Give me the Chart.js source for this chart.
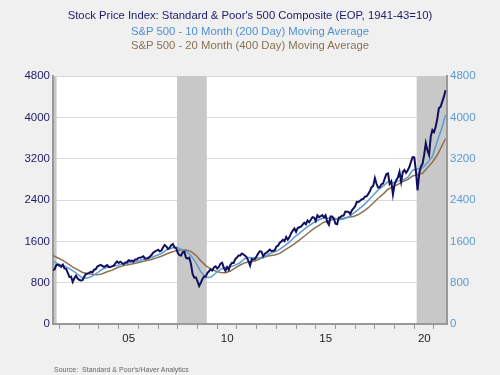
<!DOCTYPE html>
<html>
<head>
<meta charset="utf-8">
<script src="https://cdn.jsdelivr.net/npm/chart.js@4.4.0/dist/chart.umd.min.js"></script>
<style>
  body { margin: 0; background: #f0f0f0; }
  #wrap { position: relative; width: 500px; height: 375px; font-family: "Liberation Sans", Arial, sans-serif; }
  #c { position: absolute; left: 0; top: 0; }
  .ttl { position: absolute; left: 0; width: 500px; text-align: center; font-size: 11.3px; line-height: 14px; }
  #src { position: absolute; left: 54px; top: 366px; font-size: 7px; color: #666; }
</style>
</head>
<body>
<div id="wrap">
  <canvas id="c" width="500" height="375"></canvas>
  <div class="ttl" style="top:8px;color:#1c1c6b">Stock Price Index: Standard &amp; Poor's 500 Composite (EOP, 1941-43=10)</div>
  <div class="ttl" style="top:24px;color:#4f8fd6">S&amp;P 500 - 10 Month (200 Day) Moving Average</div>
  <div class="ttl" style="top:38px;color:#8b7053">S&amp;P 500 - 20 Month (400 Day) Moving Average</div>
  <div id="src">Source:&nbsp; Standard &amp; Poor's/Haver Analytics</div>
</div>
<script>
// monthly EOP, Sep 2001 .. Aug 2021
var startYear = 2001, startMonth = 9;
var spx = [
  1041, 1060, 1139, 1148,
  1130, 1107, 1147, 1077, 1067, 990, 912, 916, 815, 886, 936, 880,
  856, 841, 848, 917, 964, 975, 990, 1008, 996, 1051, 1058, 1112,
  1131, 1145, 1126, 1107, 1121, 1141, 1102, 1104, 1115, 1130, 1174, 1212,
  1181, 1204, 1181, 1157, 1192, 1191, 1234, 1220, 1229, 1207, 1249, 1248,
  1280, 1281, 1295, 1311, 1270, 1270, 1277, 1304, 1336, 1378, 1401, 1418,
  1438, 1407, 1421, 1482, 1531, 1503, 1455, 1474, 1527, 1549, 1481, 1468,
  1379, 1331, 1323, 1386, 1400, 1280, 1267, 1283, 1166, 969, 896, 903,
  826, 735, 798, 873, 919, 919, 987, 1021, 1057, 1036, 1096, 1115,
  1074, 1104, 1169, 1187, 1089, 1031, 1102, 1049, 1141, 1183, 1181, 1258,
  1286, 1327, 1326, 1364, 1345, 1321, 1292, 1219, 1131, 1253, 1247, 1258,
  1312, 1366, 1408, 1398, 1310, 1362, 1379, 1407, 1441, 1412, 1416, 1426,
  1498, 1515, 1569, 1598, 1631, 1606, 1686, 1633, 1682, 1757, 1806, 1848,
  1783, 1859, 1872, 1884, 1924, 1960, 1931, 2003, 1972, 2018, 2068, 2059,
  1995, 2105, 2068, 2086, 2107, 2063, 2104, 1972, 1920, 2079, 2080, 2044,
  1940, 1932, 2060, 2065, 2097, 2099, 2174, 2171, 2168, 2126, 2199, 2239,
  2279, 2364, 2363, 2384, 2412, 2423, 2470, 2472, 2519, 2575, 2648, 2674,
  2824, 2714, 2641, 2648, 2705, 2718, 2816, 2902, 2914, 2712, 2760, 2507,
  2704, 2784, 2834, 2946, 2752, 2942, 2980, 2926, 2977, 3038, 3141, 3231,
  3226, 2954, 2585, 2912, 3044, 3100, 3271, 3500, 3363, 3270, 3622, 3756,
  3714, 3811, 3973, 4181, 4204, 4298, 4395, 4523
];
// moving averages, every 3rd month from Sep 2001, last one Aug 2021
var ma10 = [
  1220, 1162,
  1134, 1091, 1031, 963,
  888, 892, 927, 992,
  1059, 1099, 1120, 1133,
  1154, 1174, 1200, 1211,
  1244, 1264, 1287, 1326,
  1365, 1431, 1466, 1489,
  1449, 1412, 1328, 1187,
  1012, 900, 904, 982,
  1058, 1096, 1106, 1139,
  1188, 1273, 1287, 1276,
  1281, 1305, 1364, 1396,
  1443, 1511, 1584, 1682,
  1753, 1837, 1904, 1969,
  2018, 2054, 2048, 2052,
  2020, 2032, 2075, 2140,
  2218, 2296, 2392, 2494,
  2596, 2667, 2756, 2732,
  2765, 2786, 2835, 2977,
  3000, 3021, 3119, 3242,
  3538, 3819, 4048
];
var ma20 = [
  1326, 1278,
  1232, 1169, 1101, 1054,
  997, 978, 956, 951,
  973, 1010, 1043, 1088,
  1120, 1144, 1163, 1180,
  1204, 1229, 1247, 1280,
  1312, 1355, 1389, 1420,
  1430, 1433, 1406, 1329,
  1222, 1130, 1067, 1027,
  997, 992, 1025, 1086,
  1142, 1187, 1205, 1220,
  1263, 1298, 1323, 1335,
  1366, 1428, 1487, 1549,
  1622, 1698, 1776, 1849,
  1911, 1971, 1999, 2028,
  2034, 2047, 2067, 2082,
  2119, 2181, 2251, 2343,
  2433, 2514, 2609, 2653,
  2704, 2757, 2794, 2865,
  2891, 2917, 3025, 3130,
  3271, 3458, 3585
];
var yTicks = [0, 800, 1600, 2400, 3200, 4000, 4800];
var xLabels = {2005: '05', 2010: '10', 2015: '15', 2020: '20'};
var recStart = [2001.25, 2007.96, 2020.12];
var recEnd = [2001.85, 2009.47, 2021.66];

function monthX(i) { return startYear + (startMonth - 1 + i) / 12; }

var spxPts = spx.map(function(v, i) { return {x: monthX(i), y: v}; });
function maPts(arr) {
  return arr.map(function(v, i) {
    var idx = i < arr.length - 1 ? i * 3 : spx.length - 1;
    return {x: monthX(idx), y: v};
  });
}

var plotBg = {
  id: 'plotBg',
  beforeDraw: function(chart) {
    var a = chart.chartArea, ctx = chart.ctx;
    ctx.save();
    ctx.fillStyle = '#ffffff';
    ctx.fillRect(a.left, a.top, a.right - a.left, a.bottom - a.top);
    ctx.restore();
  }
};
var recessionShade = {
  id: 'recessionShade',
  beforeDatasetsDraw: function(chart) {
    var a = chart.chartArea, ctx = chart.ctx, x = chart.scales.x;
    ctx.save();
    ctx.fillStyle = '#c8c8c8';
    for (var i = 0; i < recStart.length; i++) {
      var x0 = Math.max(x.getPixelForValue(recStart[i]), a.left + 1);
      var x1 = Math.min(x.getPixelForValue(recEnd[i]), a.right - 1);
      ctx.fillRect(x0, a.top, x1 - x0, a.bottom - a.top - 1);
    }
    ctx.restore();
  }
};

function plainTick(v) { return String(v); }

Chart.defaults.font.family = '"Liberation Sans", Arial, sans-serif';
Chart.defaults.font.size = 11.5;

new Chart(document.getElementById('c'), {
  type: 'line',
  plugins: [plotBg, recessionShade],
  data: {
    datasets: [
      { data: spxPts, borderColor: '#10105e', borderWidth: 2, pointRadius: 0, tension: 0 },
      { data: maPts(ma10), borderColor: '#5b9bd5', borderWidth: 1.5, pointRadius: 0, tension: 0 },
      { data: maPts(ma20), borderColor: '#8c7052', borderWidth: 1.5, pointRadius: 0, tension: 0 }
    ]
  },
  options: {
    responsive: false,
    animation: false,
    layout: { padding: { top: 76, left: 0, right: 0, bottom: 0 } },
    plugins: { legend: { display: false }, tooltip: { enabled: false } },
    scales: {
      x: {
        type: 'linear', min: 2001.667, max: 2021.66,
        afterFit: function(s) { s.height = 51; },
        afterBuildTicks: function(s) {
          var t = [];
          for (var y = 2002; y <= 2021; y++) t.push({value: y});
          s.ticks = t;
        },
        grid: { drawOnChartArea: false, drawTicks: true, tickLength: 5, color: '#999' },
        border: { color: '#999', width: 2 },
        ticks: {
          autoSkip: false, maxRotation: 0, labelOffset: 10, padding: 3, color: '#222',
          callback: function(v) { return xLabels[v] || ''; }
        }
      },
      y: {
        position: 'left', min: 0, max: 4800,
        afterFit: function(s) { s.width = 53; },
        afterBuildTicks: function(s) { s.ticks = yTicks.map(function(v) { return {value: v}; }); },
        grid: { color: '#dadada', drawTicks: false },
        border: { color: '#999', width: 2 },
        ticks: { color: '#1c1c6b', padding: 3, callback: plainTick }
      },
      y2: {
        position: 'right', min: 0, max: 4800,
        afterFit: function(s) { s.width = 53; },
        afterBuildTicks: function(s) { s.ticks = yTicks.map(function(v) { return {value: v}; }); },
        grid: { drawOnChartArea: false, drawTicks: false },
        border: { color: '#999', width: 2 },
        ticks: { color: '#5b9bd5', padding: 3, callback: plainTick }
      }
    }
  }
});
</script>
</body>
</html>
